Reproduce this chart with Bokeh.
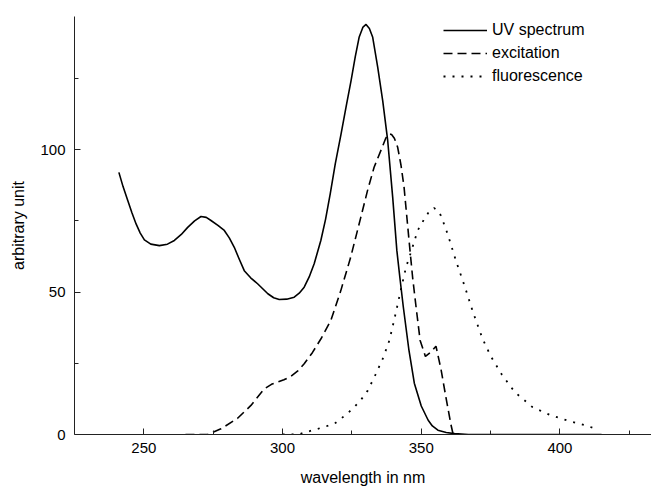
from bokeh.plotting import figure
from bokeh.models import ColumnDataSource, FixedTicker, Legend, LegendItem
from bokeh.embed import file_html
from bokeh.resources import INLINE

# ---- data ----
uv_wl = [241, 242.5, 244.2, 245.7, 247.2, 248.7, 250.2, 252.5, 255.6, 258.5, 261, 263.5,
         265.8, 268.3, 270.6, 272.5, 274.2, 276.7, 279, 280.8, 282.6, 284.4, 286.2,
         288.5, 291, 294.7, 296.8, 298.8, 301.5, 304.2, 306, 307.8, 309.6, 311.4,
         313.8, 315.5, 317.2, 319, 321.1, 323, 324.7, 326.2, 327.6, 329, 330.1,
         331.3, 332.5, 334.3, 336.1, 337.9, 339.7, 341.2, 342.3, 343.5, 345.5, 347.5,
         350, 352.5, 354, 356, 359, 362, 367, 380, 400, 415]
uv_val = [92, 87, 82.1, 77.8, 73.9, 70.7, 68.3, 66.8, 66.3, 66.8, 68.1, 70.2,
          72.7, 75, 76.5, 76.2, 75.1, 73.4, 71.6, 69, 65.7, 61.5, 57.5,
          55, 52.9, 49.4, 48, 47.4, 47.5, 48.2, 49.6, 51.7, 55.3, 59.9,
          68.1, 75.5, 84.5, 95, 105.5, 115.5, 124.2, 132.5, 139.4, 143, 143.9,
          142.5, 139.4, 128.9, 117.2, 103.2, 83.3, 64.6, 55, 45, 30, 18,
          10, 5, 3, 1.5, 0.7, 0.3, 0, 0, 0, 0]

ex_wl = [265, 273, 277.8, 283.8, 288.6, 293.4, 296, 298.3, 300.5, 303, 305.5, 307.8,
         310.8, 313.8, 317.4, 321, 324.5, 328.2, 330.6, 333, 336, 337.2, 338.4, 339.3,
         340.3, 341.5, 342.7, 343.8, 345.6, 346.9, 348.1, 349.6, 351.5, 353.5, 355.3,
         357.1, 358.9, 360.7, 361.5]
ex_val = [0, 0, 2, 5.7, 10.2, 16, 17.6, 18.4, 19.2, 20.4, 22.3, 24.8,
          28.8, 33.5, 40, 50.5, 62, 76.2, 85.5, 93.8, 101, 104, 105.5, 105.3,
          104, 100.8, 94.5, 86.8, 68.1, 55, 45, 33, 27.4, 29, 31,
          23, 13, 3.5, 0]

fl_wl = [300, 305.5, 312.7, 318.6, 321, 325.3, 328.3, 330.7, 333.5, 336.3, 338.5, 340.2,
         342.7, 344.5, 346.3, 348.7, 351, 353, 354.6, 356, 357.1, 359.5, 362.5, 365.7,
         368.7, 372.1, 375.1, 379, 383.7, 390.1, 396.3, 402.7, 408.9, 412, 413.5]
fl_val = [0, 0, 2, 3.7, 5.5, 9, 12.2, 15.4, 21, 27, 33, 40,
          51, 58.7, 64, 71.6, 75.5, 78.5, 79.5, 78.6, 76.8, 70.4, 61, 51.9,
          42.8, 33.6, 27.4, 21.1, 14.9, 9.6, 6.9, 4.9, 3.3, 2.3, 1.8]

x_ticks = [250, 300, 350, 400]
x_minor = [275, 325, 375, 425]
y_ticks = [0, 50, 100]
y_minor = [25, 75, 125]
series_names = ["UV spectrum", "excitation", "fluorescence"]

FONT = "Liberation Sans"

p = figure(width=651, height=488, x_range=(225, 433), y_range=(0, 146.7),
           min_border_left=74, min_border_right=0, min_border_top=16,
           min_border_bottom=54, output_backend="svg", toolbar_location=None)
p.outline_line_color = None
p.xgrid.visible = False
p.ygrid.visible = False
p.background_fill_color = "white"
p.border_fill_color = "white"

uv_src = ColumnDataSource(dict(x=uv_wl, y=uv_val))
ex_src = ColumnDataSource(dict(x=ex_wl, y=ex_val))
fl_src = ColumnDataSource(dict(x=fl_wl, y=fl_val))

r_uv = p.line("x", "y", source=uv_src, line_color="black", line_width=1.6,
              line_join="round")
r_ex = p.line("x", "y", source=ex_src, line_color="black", line_width=1.6,
              line_dash="9 5")
r_fl = p.line("x", "y", source=fl_src, line_color="black", line_width=1.8,
              line_dash="2 7")

for ax, ticks, minor in ((p.xaxis[0], x_ticks, x_minor), (p.yaxis[0], y_ticks, y_minor)):
    ax.ticker = FixedTicker(ticks=ticks, minor_ticks=minor)
    ax.axis_line_color = "#222222"
    ax.axis_line_width = 1
    ax.major_tick_line_color = "#222222"
    ax.minor_tick_line_color = "#222222"
    ax.major_tick_in = 6
    ax.major_tick_out = 0
    ax.minor_tick_in = 4
    ax.minor_tick_out = 0
    ax.major_label_text_font = FONT
    ax.major_label_text_font_size = "15px"
    ax.major_label_text_color = "black"
    ax.axis_label_text_font = FONT
    ax.axis_label_text_font_size = "16px"
    ax.axis_label_text_font_style = "normal"
    ax.axis_label_text_color = "black"

p.xaxis.axis_label = "wavelength in nm"
p.yaxis.axis_label = "arbitrary unit"
p.xaxis.major_label_standoff = 8
p.yaxis.major_label_standoff = 9
p.xaxis.axis_label_standoff = 13
p.yaxis.axis_label_standoff = 10

legend = Legend(items=[LegendItem(label=series_names[0], renderers=[r_uv]),
                       LegendItem(label=series_names[1], renderers=[r_ex]),
                       LegendItem(label=series_names[2], renderers=[r_fl])],
                location=(369, 348))
legend.border_line_color = None
legend.background_fill_alpha = 0
legend.padding = 0
legend.margin = 0
legend.spacing = 3
legend.glyph_width = 44
legend.glyph_height = 20
legend.label_height = 20
legend.label_standoff = 5
legend.label_text_font = FONT
legend.label_text_font_size = "16px"
legend.label_text_color = "black"
p.add_layout(legend)

open("out.html", "w").write(file_html(p, INLINE))
